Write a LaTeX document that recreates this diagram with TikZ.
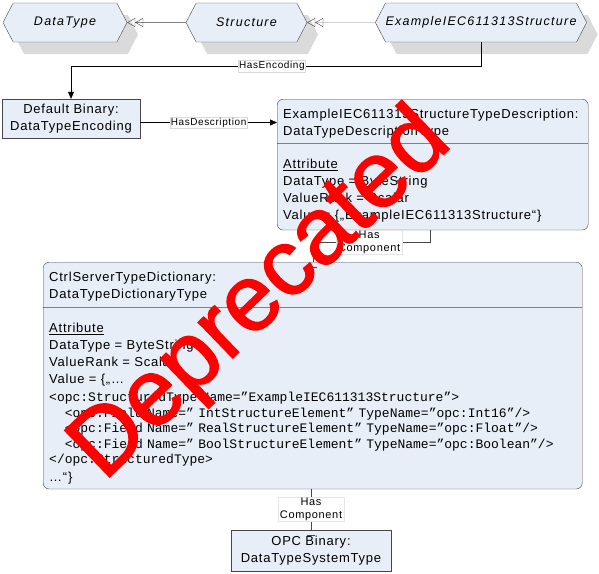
\documentclass[tikz,border=0pt]{standalone}
\usepackage{fontspec}
\setmainfont{Liberation Sans}[LetterSpace=6]
\setmonofont{Liberation Mono}
\newfontfamily\hexfont{Liberation Sans}[LetterSpace=10]
\newfontfamily\stampfont{Liberation Sans}[FakeBold=1.5]
\usetikzlibrary{shapes.symbols,shapes.multipart,shadows,arrows.meta}
\definecolor{boxblue}{RGB}{232,238,248}
\definecolor{edgegray}{RGB}{70,70,70}
\definecolor{shadegray}{RGB}{218,218,218}
\newcommand{\topgap}[1]{\rule{0pt}{#1}}
\newcommand{\botgap}[1]{\rule[-#1]{0pt}{#1}}

\begin{document}
\begin{tikzpicture}[x=1pt,y=-1pt,
  typehex/.style={signal,signal to=west and east,signal pointer angle=125,
    draw=edgegray,fill=boxblue,minimum height=39pt,inner sep=0pt,
    font=\hexfont\itshape\fontsize{12.5}{15}\selectfont,
    general shadow={fill=shadegray,shadow xshift=11pt,shadow yshift=-12pt}},
  objbox/.style={draw=edgegray,fill=boxblue,align=center,minimum height=39pt,
    inner sep=0pt,font=\fontsize{13}{17}\selectfont},
  splitbox/.style={rectangle split,rectangle split parts=2,draw=edgegray,
    fill=boxblue,rounded corners=6pt,align=left,inner xsep=6pt,inner ysep=4pt,
    anchor=north west,font=\fontsize{13}{17}\selectfont},
  reflabel/.style={fill=white,draw=black!15,inner sep=1pt,
    font=\fontsize{10}{12}\selectfont},
  complabel/.style={fill=white,draw=black!10,inner xsep=2pt,inner ysep=1pt,
    align=center,font=\fontsize{11}{12.5}\selectfont},
  reflink/.style={draw=black,-{Triangle[length=7pt,width=6pt]}},
  subtype/.style={draw=gray,
    -{Triangle[open,length=8pt,width=9pt,color=gray!50!black] Triangle[open,length=8pt,width=9pt,color=gray!50!black]}},
  complink/.style={draw=edgegray},
  stamp/.style={text=red,font=\stampfont\fontsize{94}{94}\selectfont,
    rotate=44,inner sep=0pt}]
\useasboundingbox (0,0) rectangle (599,573);

% type hierarchy
\draw (65,22.5) node[typehex,minimum width=124pt] (dt) {DataType};
\draw (246.5,22.5) node[typehex,minimum width=121pt] (st) {Structure};
\draw (481,22.5) node[typehex,minimum width=204pt] (ex) {ExampleIEC611313Structure};
\draw[subtype] (st) -- (dt);
\draw[subtype] (ex) -- (st);

% encoding and description
\draw (71,118.5) node[objbox,minimum width=138pt] (enc)
  {Default Binary:\\DataTypeEncoding};
\draw (277,99) node[splitbox,text width=299pt] (desc)
  {\topgap{15pt}ExampleIEC611313StructureTypeDescription:\\
   DataTypeDescriptionType\botgap{4pt}
   \nodepart{two}\topgap{21pt}\underline{Attribute}\\
   DataType = ByteString\\
   ValueRank = Scalar\\
   Value = \{„ExampleIEC611313Structure“\}\botgap{6pt}};
\draw[reflink] (ex.south) -- ++(0,24) -| node[reflabel,pos=0.255] {HasEncoding} (enc.north);
\draw[reflink] ([yshift=-4pt]enc.east) -- node[reflabel] {HasDescription}
  ([yshift=-4pt]enc.east -| desc.west);

% dictionary
\draw (43,262) node[splitbox,text width=527pt] (dict)
  {\topgap{15pt}CtrlServerTypeDictionary:\\
   DataTypeDictionaryType\botgap{5pt}
   \nodepart{two}\topgap{21pt}\underline{Attribute}\\
   DataType = ByteString\\
   ValueRank = Scalar\\
   Value = \{„…\\[1pt]
   {\ttfamily <opc:StructuredType Name=”ExampleIEC611313Structure”>}\\[-1.5pt]
   {\ttfamily\hphantom{xx}<opc:Field Name=” IntStructureElement” TypeName=”opc:Int16”/>}\\[-1.5pt]
   {\ttfamily\hphantom{xx}<opc:Field Name=” RealStructureElement” TypeName=”opc:Float”/>}\\[-1.5pt]
   {\ttfamily\hphantom{xx}<opc:Field Name=” BoolStructureElement” TypeName=”opc:Boolean”/>}\\[-1.5pt]
   {\ttfamily </opc:StructuredType>}\\[0.5pt]
   …“\}\botgap{3.5pt}};
\draw[complink] ([xshift=-2.5pt]desc.south) -- ++(0,12) -|
  node[complabel,pos=0.26] {Has\\Component} (dict.north);
\draw[complink] (dict.north) ++(-4pt,-5pt) -- ++(8pt,0);

% type system
\draw (311,550.5) node[objbox,minimum width=160pt,minimum height=41pt] (opc)
  {OPC Binary:\\DataTypeSystemType};
\draw[complink] (opc.north) -- node[complabel] {Has\\Component} (opc.north |- dict.south);
\draw[complink] (opc.north) ++(-4pt,-5pt) -- ++(8pt,0);

\node[stamp] (dep) at (262,296) {Deprecated};
\end{tikzpicture}
\end{document}
